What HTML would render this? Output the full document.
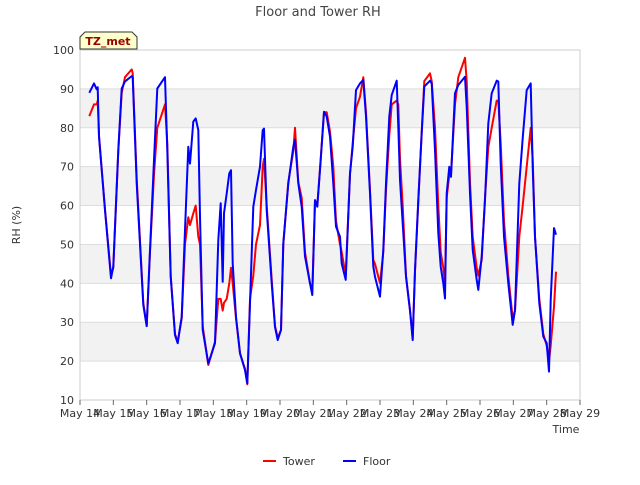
<!DOCTYPE html>
<html><head><meta charset="utf-8"><style>
body{margin:0;background:#fff;font-family:"Liberation Sans",sans-serif;}
svg text{font-family:"DejaVu Sans","Liberation Sans",sans-serif;}
</style></head><body>
<svg id="c" width="640" height="480" viewBox="0 0 640 480" xmlns="http://www.w3.org/2000/svg">
<rect width="640" height="480" fill="#fff"/>
<text x="318" y="16" text-anchor="middle" font-size="13" fill="#444">Floor and Tower RH</text>
<g id="bands"></g>
<g id="grid"></g>
<rect x="80" y="50" width="500" height="350" fill="none" stroke="#ccc"/>
<g id="yt"></g><g id="xt"></g>
<g id="series"></g>
<text x="20" y="225" transform="rotate(-90 20 225)" text-anchor="middle" font-size="11" fill="#333">RH (%)</text>
<text x="566" y="433" text-anchor="middle" font-size="11" fill="#333">Time</text>
<g>
<path d="M80,49 L80,37 L85,32 L132,32 L137,37 L137,49 Z" fill="#ffffcc" stroke="#333"/>
<text x="108" y="45" text-anchor="middle" font-size="11" font-weight="bold" fill="#990000">TZ_met</text>
</g>
<g>
<line x1="263" y1="461" x2="276" y2="461" stroke="#f00" stroke-width="2"/>
<text x="283" y="465" font-size="11" fill="#333">Tower</text>
<line x1="343" y1="461" x2="356" y2="461" stroke="#00f" stroke-width="2"/>
<text x="363" y="465" font-size="11" fill="#333">Floor</text>
</g>
</svg>
<script>
const xLabels=["May 14","May 15","May 16","May 17","May 18","May 19","May 20","May 21","May 22","May 23","May 24","May 25","May 26","May 27","May 28","May 29"];
const yTicks=[10,20,30,40,50,60,70,80,90,100];
const times=[0.28,0.42,0.50,0.53,0.57,0.75,0.93,1.00,1.15,1.25,1.35,1.55,1.58,1.70,1.90,2.00,2.10,2.22,2.32,2.55,2.62,2.72,2.85,2.93,3.05,3.15,3.25,3.30,3.40,3.47,3.55,3.60,3.68,3.85,3.95,4.05,4.15,4.22,4.28,4.32,4.40,4.48,4.53,4.58,4.68,4.80,4.95,5.02,5.10,5.20,5.28,5.40,5.48,5.52,5.60,5.75,5.85,5.93,6.03,6.10,6.25,6.40,6.45,6.55,6.65,6.75,6.90,6.97,7.05,7.12,7.22,7.32,7.40,7.50,7.60,7.68,7.80,7.85,7.97,8.10,8.18,8.28,8.40,8.50,8.58,8.70,8.80,8.85,9.00,9.10,9.18,9.28,9.35,9.50,9.55,9.60,9.68,9.78,9.90,9.98,10.05,10.15,10.25,10.33,10.50,10.55,10.65,10.75,10.82,10.90,10.95,11.00,11.08,11.13,11.25,11.35,11.55,11.60,11.70,11.78,11.90,11.95,12.05,12.15,12.25,12.35,12.50,12.55,12.62,12.72,12.85,12.98,13.05,13.18,13.28,13.40,13.52,13.58,13.65,13.78,13.90,14.00,14.07,14.12,14.22,14.28];
const floorRH=[89,91.4,89.9,90.4,77.7,58.8,41.3,44.3,74.3,90.1,91.9,93.3,93,65.7,34.4,29,48.6,71.7,90.1,93,74.3,41.7,26.7,24.6,31.4,53.7,75.1,70.8,81.6,82.4,79.4,57.1,28,19.4,22,24.6,51.1,60.6,40.4,58,63.1,68.3,69.1,45.1,31.4,22,17.7,14.3,34.9,59.7,64,70,79.4,79.8,58.8,40,28.8,25.4,28,50.3,65.7,75.1,76.9,65.7,59.7,46.9,40,37,61.4,59.7,71.7,84.1,82.9,77.7,65.7,54.6,52,45.1,40.9,68.3,75.1,89.7,91.4,92.3,82.9,63.1,44.3,41.7,36.6,48.6,65.7,82.9,88.4,92.1,80.3,66.6,55.4,41.7,33.1,25.4,43.4,61.4,78.6,90.6,92.1,91.4,74.3,52.9,44.3,40,36.1,63.1,70,67.4,88.9,91,93.1,85.4,63.1,48.6,40.9,38.3,46.9,61.4,81.1,88.9,92.1,91.9,70.8,52,40,29.3,33.1,65.7,77.3,89.7,91.4,70,52,34.9,26.3,24.6,17.3,35.7,54.2,52.5];
const towerRH=[83,86,86,87,78,59,42,44,74,89,93,95,94,67,35,29,48,68,80,86,76,42,27,25,31,50,57,55,58,60,52,50,29,19,22,25,36,36,33,35,36,40,44,40,31,22,18,14,36,42,50,55,70,72,60,41,29,26,28,50,66,74,80,66,62,48,40,38,61,60,72,84,84,79,70,56,50,48,42,68,76,85,88,93,84,64,46,45,40,48,64,78,86,87,86,72,60,42,33,26,43,61,79,92,94,92,80,60,48,44,40,62,68,68,86,93,98,92,66,52,44,42,46,62,75,80,87,87,76,56,42,31,33,52,60,70,80,72,52,36,27,24,20,24,34,43];
const X0=80,X1=580,Y0=400,Y1=50;
const xs=d=>X0+(X1-X0)*d/15;
const ys=v=>Y0-(Y0-Y1)*(v-10)/90;
const NS="http://www.w3.org/2000/svg";
function mk(t,a,p){const e=document.createElementNS(NS,t);for(const k in a)e.setAttribute(k,a[k]);p.appendChild(e);return e;}
const bands=document.getElementById('bands'),grid=document.getElementById('grid'),yt=document.getElementById('yt'),xt=document.getElementById('xt'),ser=document.getElementById('series');
for(let v=20;v<100;v+=20){const r=mk('rect',{x:X0,y:ys(v+10),width:X1-X0,height:ys(v)-ys(v+10),fill:'#f2f2f2'},bands);

}
yTicks.forEach(v=>{const l=mk('line',{x1:X0,x2:X1,y1:ys(v),y2:ys(v),stroke:'#ddd'},grid);


const t=mk('text',{x:X0-6,y:ys(v)+4,'text-anchor':'end','font-size':11,fill:'#333'},yt);t.textContent=v;

});
xLabels.forEach((s,i)=>{const x=xs(i);mk('line',{x1:x,x2:x,y1:Y0,y2:Y0+5,stroke:'#666'},xt);
const t=mk('text',{x:x,y:Y0+17,'text-anchor':'middle','font-size':11,fill:'#333'},xt);t.textContent=s;

});
function line(vals,col,name){const d=vals.map((v,i)=>(i?'L':'M')+xs(times[i]).toFixed(1)+','+ys(v).toFixed(1)).join('');
const p=mk('path',{d:d,fill:'none',stroke:col,'stroke-width':2,'stroke-linejoin':'round'},ser);

}
line(towerRH,'#f00','tower-line');
line(floorRH,'#00f','floor-line');
</script>
</body></html>
